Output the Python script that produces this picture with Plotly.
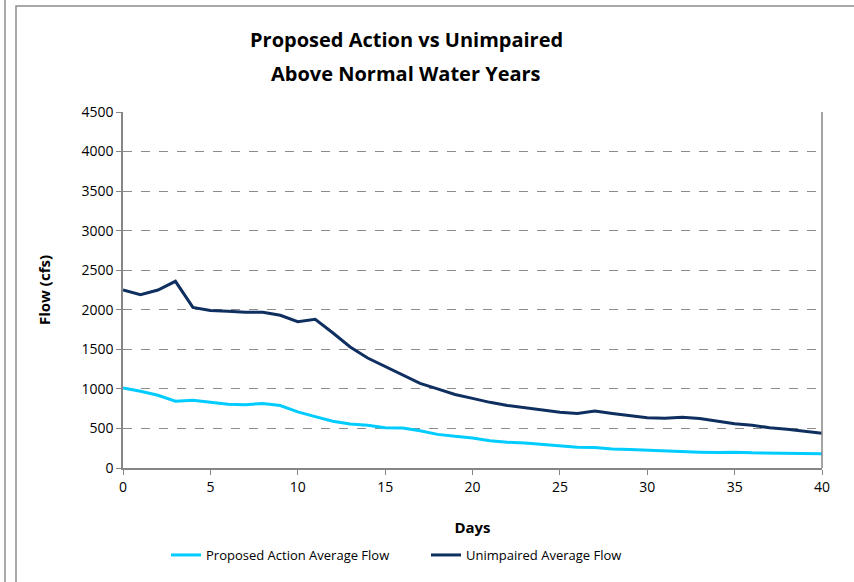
import plotly.graph_objects as go

days = list(range(41))
proposed = [1010, 970, 920, 845, 855, 830, 805, 800, 815, 790,
            710, 650, 590, 555, 540, 510, 505, 470, 425, 400,
            380, 345, 325, 315, 295, 275, 262, 260, 240, 235,
            225, 215, 205, 200, 195, 200, 192, 190, 190, 185, 180]
unimpaired = [2250, 2190, 2250, 2360, 2030, 1990, 1980, 1970, 1970, 1930,
              1850, 1880, 1710, 1530, 1390, 1280, 1170, 1070, 1000, 930,
              880, 830, 790, 760, 730, 705, 690, 720, 690, 660,
              635, 630, 640, 625, 590, 560, 540, 510, 490, 465, 440]
y_ticks = list(range(0, 4501, 500))
x_ticks = list(range(0, 41, 5))
title_lines = ["Proposed Action vs Unimpaired", "Above Normal Water Years"]

FONT = "Open Sans"
W, H = 854, 582
L, R, T, B = 123, 32, 112, 114
PW, PH = W - L - R, H - T - B

def px_x(x):
    return (x - L) / PW

def px_y(y):
    return (H - B - y) / PH

fig = go.Figure()
fig.add_trace(go.Scatter(x=days, y=proposed, mode="lines",
                         name="Proposed Action Average Flow",
                         line=dict(color="#00CCFF", width=3)))
fig.add_trace(go.Scatter(x=days, y=unimpaired, mode="lines",
                         name="Unimpaired Average Flow",
                         line=dict(color="#0F2F60", width=3)))

fig.update_layout(
    width=W, height=H,
    margin=dict(l=L, r=R, t=T, b=B, autoexpand=False),
    paper_bgcolor="white", plot_bgcolor="white",
    font=dict(family=FONT, size=14, color="black"),
    legend=dict(orientation="h", x=px_x(166), xanchor="left", y=px_y(555), yanchor="middle",
                font=dict(size=13), itemwidth=30, entrywidthmode="pixels", entrywidth=215,
                traceorder="normal"),
    showlegend=True,
)
for txt, yc in zip(title_lines, [40, 73]):
    fig.add_annotation(text=f"<b>{txt}</b>", xref="paper", yref="paper",
                       x=px_x(406), y=px_y(yc), xanchor="center", yanchor="middle",
                       showarrow=False, font=dict(size=20, family=FONT))

fig.update_xaxes(range=[0, 40], tickvals=x_ticks, ticks="outside", ticklen=5,
                 tickcolor="#868686", showline=True, linecolor="#868686", linewidth=1.5,
                 showgrid=False, zeroline=False,
                 title=dict(text="<b>Days</b>", font=dict(size=15), standoff=28))
fig.update_yaxes(range=[0, 4500], tickvals=y_ticks, ticks="outside", ticklen=5,
                 tickcolor="#868686", showline=True, linecolor="#868686", linewidth=1.5,
                 showgrid=True, gridcolor="#8c8c8c", griddash="dash", gridwidth=1,
                 zeroline=False,
                 title=dict(text="<b>Flow (cfs)</b>", font=dict(size=15), standoff=27))

# plot area right border
fig.add_shape(type="line", xref="paper", yref="paper", x0=1, x1=1, y0=0, y1=1,
              line=dict(color="#868686", width=1.5))
# outer chart frame
fig.add_shape(type="rect", xref="paper", yref="paper",
              x0=px_x(16), x1=px_x(870), y0=px_y(600), y1=px_y(6),
              line=dict(color="#8c8c8c", width=1.5), layer="below")
fig.add_shape(type="line", xref="paper", yref="paper",
              x0=px_x(5), x1=px_x(5), y0=px_y(600), y1=px_y(-10),
              line=dict(color="#8c8c8c", width=1.5))

fig.write_html("out.html", config={"displayModeBar": False},
               post_script="document.body.style.margin='0px';")
